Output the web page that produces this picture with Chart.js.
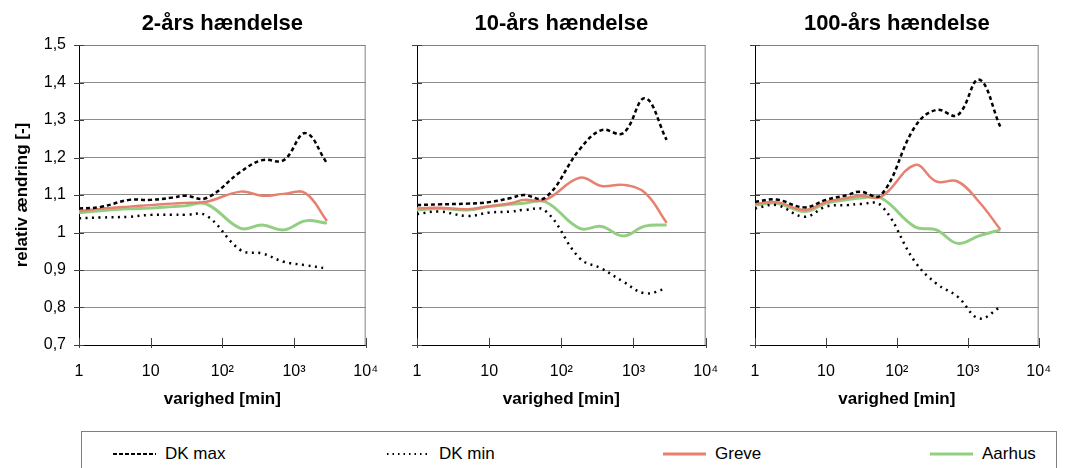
<!DOCTYPE html>
<html>
<head>
<meta charset="utf-8">
<script src="https://cdn.jsdelivr.net/npm/chart.js@4.4.1/dist/chart.umd.min.js"></script>
<style>
body { margin: 0; background: #fff; width: 1068px; height: 468px; overflow: hidden; position: relative; font-family: "Liberation Sans", Arial, sans-serif; }
canvas { position: absolute; top: 0; }
#legend { position: absolute; left: 81px; top: 431px; width: 976px; height: 60px; border: 1px solid #7f7f7f; box-sizing: border-box; }
.item { position: absolute; top: 12px; height: 20px; font-size: 17px; line-height: 20px; color: #000; white-space: nowrap; }
.item svg { position: absolute; left: 0; top: 7px; }
.item span { position: absolute; top: 0; }
</style>
</head>
<body>
<canvas id="c1" width="395" height="420" style="left:0px"></canvas>
<canvas id="c2" width="345" height="420" style="left:390px"></canvas>
<canvas id="c3" width="341" height="420" style="left:727px"></canvas>
<div id="legend"></div>
<script>
// durations in minutes (x values, log axis)
var durations = [1, 2, 5, 10, 20, 30, 60, 180, 360, 720, 1440, 2880];
var xTicks = [1, 10, 100, 1000, 10000];
var xTickLabels = ["1", "10", "10\u00b2", "10\u00b3", "10\u2074"];
var yTicks = [0.7, 0.8, 0.9, 1.0, 1.1, 1.2, 1.3, 1.4, 1.5];
var yTickLabels = ["0,7", "0,8", "0,9", "1", "1,1", "1,2", "1,3", "1,4", "1,5"];
var panelTitles = ["2-års hændelse", "10-års hændelse", "100-års hændelse"];
var seriesNames = ["DK max", "DK min", "Greve", "Aarhus"];

// 2-års hændelse
var dkMax2  = [1.064, 1.068, 1.087, 1.087, 1.093, 1.098, 1.092, 1.162, 1.193, 1.193, 1.265, 1.185];
var dkMin2  = [1.038, 1.040, 1.042, 1.047, 1.047, 1.047, 1.045, 0.953, 0.944, 0.922, 0.913, 0.904];
var greve2  = [1.057, 1.063, 1.069, 1.073, 1.077, 1.079, 1.082, 1.109, 1.098, 1.103, 1.105, 1.031];
var aarhus2 = [1.053, 1.058, 1.063, 1.065, 1.069, 1.071, 1.076, 1.011, 1.020, 1.007, 1.031, 1.025];

// 10-års hændelse
var dkMax10  = [1.073, 1.075, 1.077, 1.081, 1.092, 1.100, 1.093, 1.222, 1.273, 1.265, 1.358, 1.247];
var dkMin10  = [1.049, 1.056, 1.044, 1.053, 1.056, 1.060, 1.058, 0.931, 0.904, 0.869, 0.838, 0.851];
var greve10  = [1.064, 1.066, 1.062, 1.070, 1.078, 1.087, 1.087, 1.146, 1.124, 1.127, 1.106, 1.026];
var aarhus10 = [1.060, 1.064, 1.060, 1.069, 1.075, 1.078, 1.082, 1.011, 1.016, 0.991, 1.017, 1.020];

// 100-års hændelse
var dkMax100  = [1.082, 1.088, 1.067, 1.087, 1.100, 1.109, 1.100, 1.282, 1.327, 1.313, 1.408, 1.282];
var dkMin100  = [1.064, 1.073, 1.042, 1.069, 1.073, 1.076, 1.072, 0.922, 0.864, 0.829, 0.771, 0.801];
var greve100  = [1.076, 1.081, 1.060, 1.081, 1.092, 1.098, 1.095, 1.180, 1.136, 1.136, 1.082, 1.008];
var aarhus100 = [1.073, 1.078, 1.056, 1.078, 1.088, 1.092, 1.092, 1.015, 1.007, 0.971, 0.991, 1.007];

var fontFamily = '"Liberation Sans", Arial, sans-serif',
    red = "#E8806F",
    green = "#93CF82",
    seriesStyles = [
        { color: "#000", width: 2.5, dash: [4, 3] },
        { color: "#000", width: 2.5, dash: [2, 4.5] },
        { color: red, width: 2.5, dash: [] },
        { color: green, width: 3, dash: [] }
    ];

Chart.defaults.font.family = fontFamily;

function toPoints(vals) {
    return durations.map(function (d, i) { return { x: d, y: vals[i] }; });
}

function makeSets(list) {
    return list.map(function (vals, i) {
        var s = seriesStyles[i];
        return {
            label: seriesNames[i],
            data: toPoints(vals),
            borderColor: s.color,
            borderWidth: s.width,
            borderDash: s.dash,
            pointRadius: 0,
            tension: 0.4,
            fill: false
        };
    });
}

// plot frame + cross tick marks, like the Excel original
var framePlugin = {
    id: "frame",
    beforeDatasetsDraw: function (chart) {
        var ctx = chart.ctx, a = chart.chartArea, xs = chart.scales.x, ys = chart.scales.y;
        ctx.save();
        ctx.lineWidth = 1;
        ctx.strokeStyle = "#808080";
        ctx.beginPath();
        ctx.moveTo(a.left, a.top + 0.5);
        ctx.lineTo(a.right - 0.5, a.top + 0.5);
        ctx.lineTo(a.right - 0.5, a.bottom);
        ctx.stroke();
        ctx.strokeStyle = "#000";
        ctx.beginPath();
        ctx.moveTo(a.left + 0.5, a.top);
        ctx.lineTo(a.left + 0.5, a.bottom + 0.5);
        ctx.lineTo(a.right, a.bottom + 0.5);
        ctx.stroke();
        ctx.strokeStyle = "#404040";
        ctx.beginPath();
        yTicks.forEach(function (v) {
            var py = Math.round(ys.getPixelForValue(v)) + 0.5;
            ctx.moveTo(a.left - 5, py);
            ctx.lineTo(a.left + 5, py);
        });
        xTicks.forEach(function (v) {
            var px = Math.round(xs.getPixelForValue(v)) + 0.5;
            ctx.moveTo(px, a.bottom - 7);
            ctx.lineTo(px, a.bottom + 3);
        });
        ctx.stroke();
        ctx.restore();
    }
};

function makePanel(id, title, list, yWidth, padRight, first) {
    var ctx = document.getElementById(id).getContext("2d");
    return new Chart(ctx, {
        type: "line",
        data: { datasets: makeSets(list) },
        plugins: [framePlugin],
        options: {
            responsive: false,
            animation: false,
            layout: { padding: { right: padRight } },
            plugins: {
                legend: { display: false },
                tooltip: { enabled: false },
                title: {
                    display: true,
                    text: title,
                    fullSize: false,
                    color: "#000",
                    font: { size: 22, weight: "bold" },
                    padding: { top: 11, bottom: 7.6 }
                }
            },
            scales: {
                x: {
                    type: "logarithmic",
                    min: 1,
                    max: 10000,
                    afterBuildTicks: function (s) {
                        s.ticks = xTicks.map(function (v) { return { value: v }; });
                    },
                    afterFit: function (s) { s.height = 75; },
                    grid: { display: true, drawOnChartArea: false, drawTicks: false },
                    border: { display: false },
                    ticks: {
                        padding: 17,
                        color: "#000",
                        font: { size: 16 },
                        maxRotation: 0,
                        autoSkip: false,
                        callback: function (value) {
                            return xTickLabels[xTicks.indexOf(value)];
                        }
                    },
                    title: {
                        display: true,
                        text: "varighed [min]",
                        color: "#000",
                        font: { size: 17, weight: "bold" },
                        padding: { top: 0, bottom: 10 }
                    }
                },
                y: {
                    min: 0.7,
                    max: 1.5,
                    afterBuildTicks: function (s) {
                        s.ticks = yTicks.map(function (v) { return { value: v }; });
                    },
                    afterFit: function (s) { s.width = yWidth; },
                    grid: { color: "#8c8c8c", lineWidth: 1, drawTicks: false },
                    border: { display: false },
                    ticks: {
                        display: first,
                        padding: 13,
                        color: "#000",
                        font: { size: 16 },
                        callback: function (value, index) { return yTickLabels[index]; }
                    },
                    title: {
                        display: first,
                        text: "relativ ændring [-]",
                        color: "#000",
                        font: { size: 17, weight: "bold" },
                        padding: { top: 12, bottom: 0 }
                    }
                }
            }
        }
    });
}

makePanel("c1", panelTitles[0], [dkMax2, dkMin2, greve2, aarhus2], 79, 16, true);
makePanel("c2", panelTitles[1], [dkMax10, dkMin10, greve10, aarhus10], 27, 18, false);
makePanel("c3", panelTitles[2], [dkMax100, dkMin100, greve100, aarhus100], 28, 12, false);

// legend row (html), samples styled like the series
var legendLeft = [31, 305, 581, 848];
var legendDash = ["4,2", "1.5,4", "", ""];
var legend = document.getElementById("legend");
seriesNames.forEach(function (name, i) {
    var s = seriesStyles[i],
        item = document.createElement("div");
    item.className = "item";
    item.style.left = legendLeft[i] + "px";
    item.innerHTML = '<svg width="43" height="6"><line x1="0" y1="3" x2="43" y2="3" stroke="' + s.color +
        '" stroke-width="' + (i < 2 ? 2 : 3) + '"' + (legendDash[i] ? ' stroke-dasharray="' + legendDash[i] + '"' : "") +
        '/></svg><span style="left:52px">' + name + "</span>";
    legend.appendChild(item);
});
</script>
</body>
</html>
